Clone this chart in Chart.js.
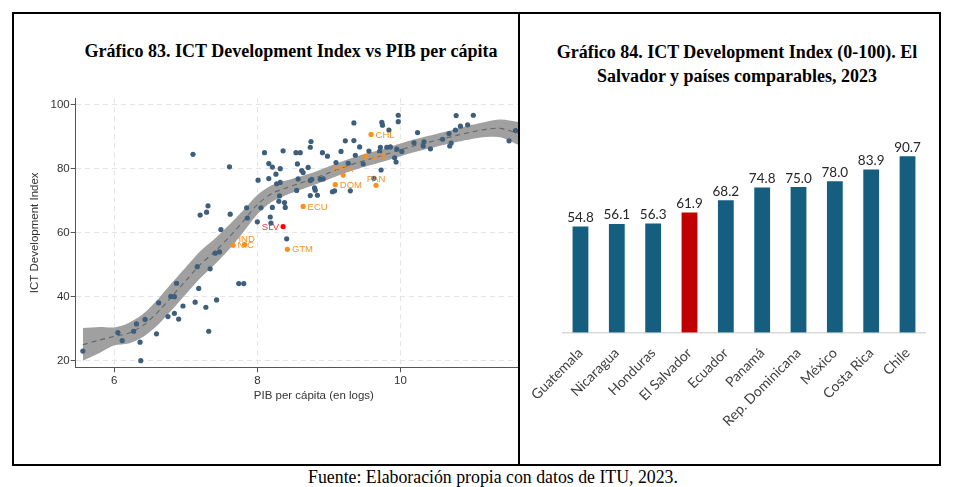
<!DOCTYPE html>
<html lang="es">
<head>
<meta charset="utf-8">
<title>ICT Development Index</title>
<script src="https://cdn.jsdelivr.net/npm/chart.js@4.4.1/dist/chart.umd.min.js"></script>
<style>
    body { margin: 0; width: 961px; height: 487px; background: #fff; position: relative; overflow: hidden; }
    #frame { position: absolute; left: 12px; top: 12px; width: 925px; height: 450px; border: 2px solid #000; }
    #divider { position: absolute; left: 517.5px; top: 12px; width: 2.5px; height: 454px; background: #000; }
    .title { position: absolute; font-family: "Liberation Serif", "Times New Roman", serif; font-weight: bold;
             font-size: 18px; line-height: 24px; text-align: center; color: #000; }
    #title83 { left: 41px; top: 39px; width: 500px; }
    #title84 { left: 537px; top: 40px; width: 400px; }
    #scatterWrap { position: absolute; left: 14px; top: 85px; width: 503.5px; height: 330px; overflow: hidden; }
    #barWrap { position: absolute; left: 520px; top: 90px; width: 419px; height: 374px; }
    #source { position: absolute; left: 243px; top: 467px; width: 500px; text-align: center;
              font-family: "Liberation Serif", "Times New Roman", serif; font-size: 17.8px; line-height: 20px; color: #000; }
</style>
</head>
<body>
<div id="frame"></div>
<div id="divider"></div>
<div class="title" id="title83">Gráfico 83. ICT Development Index vs PIB per cápita</div>
<div class="title" id="title84">Gráfico 84. ICT Development Index (0-100). El<br>Salvador y países comparables, 2023</div>
<div id="scatterWrap"><canvas id="scatter" width="545" height="330"></canvas></div>
<div id="barWrap"><canvas id="bars" width="419" height="374"></canvas></div>
<div id="source">Fuente: Elaboración propia con datos de ITU, 2023.</div>

<script>
// Countries shown in the bar chart (same order as the highlighted points)
const countries = ['Guatemala', 'Nicaragua', 'Honduras', 'El Salvador', 'Ecuador',
                   'Panamá', 'Rep. Dominicana', 'México', 'Costa Rica', 'Chile'];
const countryCodes = ['GTM', 'NIC', 'HND', 'SLV', 'ECU', 'PAN', 'DOM', 'MEX', 'CRI', 'CHL'];
const ictValues = [54.8, 56.1, 56.3, 61.9, 68.2, 74.8, 75.0, 78.0, 83.9, 90.7];
const gdpLogHighlighted = [8.42, 7.66, 7.82, 8.36, 8.64, 9.66, 9.09, 9.20, 9.51, 9.59];

// All other countries (log GDP per capita, ICT index)
const gdpLog = [
    5.56, 6.05, 6.11, 6.27, 6.31, 6.36, 6.37, 6.43, 6.59, 6.62,
    6.75, 6.79, 6.84, 6.84, 6.87, 6.90, 6.96, 7.13, 7.16, 7.18,
    7.28, 7.32, 7.34, 7.41, 7.43, 7.47, 7.49, 7.74, 7.81, 8.41,
    7.10, 7.61, 7.31, 7.20, 7.29, 7.62,
    9.97, 9.97, 9.35, 9.74, 9.75, 9.84, 10.78, 11.02, 10.84, 10.94,
    10.77, 10.68, 10.24, 11.61, 11.52, 10.59, 10.71, 10.69, 10.33, 10.19,
    10.32, 10.42, 10.02, 9.95, 9.86, 9.81, 9.72, 9.71, 9.92, 9.94,
    9.56, 9.43, 9.35, 9.23, 9.37, 9.48, 9.17, 9.10, 9.27, 8.98,
    8.91, 8.75, 8.74, 8.60, 8.54, 8.36, 8.10, 8.56, 8.71, 8.62,
    8.64, 8.16, 8.21, 8.32, 8.26, 8.16, 8.01, 8.27, 8.32, 8.57,
    8.74, 8.76, 8.88, 8.92, 8.55, 8.80, 8.81, 8.74, 8.84, 9.05,
    9.08, 9.30, 9.63, 9.73, 8.31, 8.30, 8.38, 8.39, 8.21, 8.05,
    7.85, 7.86, 8.18, 8.19, 8.00
];
const ictScore = [
    23.0, 28.8, 26.3, 29.2, 31.5, 25.8, 20.0, 32.9, 28.4, 38.1,
    33.8, 40.1, 40.0, 34.8, 44.2, 33.0, 37.1, 38.3, 49.4, 42.6,
    36.7, 29.2, 48.7, 53.6, 39.0, 54.0, 61.0, 44.1, 44.1, 58.1,
    84.5, 80.6, 68.4, 65.5, 66.4, 65.8,
    96.7, 94.7, 94.3, 94.5, 93.6, 92.1, 96.6, 96.7, 93.3, 93.7,
    92.1, 91.0, 91.3, 91.9, 88.7, 89.2, 88.0, 87.1, 88.4, 88.1,
    87.1, 86.2, 85.4, 86.1, 86.8, 86.7, 86.7, 85.4, 83.4, 82.1,
    85.5, 86.8, 88.8, 88.7, 84.2, 81.5, 85.4, 81.9, 81.7, 83.9,
    85.0, 88.5, 86.7, 85.0, 85.0, 85.6, 85.0, 81.5, 80.4, 79.4,
    78.8, 81.6, 80.5, 80.0, 78.3, 76.9, 76.4, 75.3, 75.7, 76.8,
    76.3, 76.7, 76.7, 76.8, 73.2, 74.0, 73.3, 71.6, 71.7, 72.8,
    73.1, 73.1, 77.0, 79.6, 71.5, 69.8, 69.4, 67.9, 67.9, 67.8,
    67.8, 64.6, 64.9, 63.0, 63.4
];

// Smoothed fit and its confidence band
const fitX = [5.56, 5.8, 6.0, 6.2, 6.4, 6.6, 6.8, 7.0, 7.2, 7.4, 7.6, 7.8, 8.0, 8.2, 8.4, 8.6,
              8.8, 9.0, 9.2, 9.4, 9.6, 9.8, 10.0, 10.2, 10.4, 10.6, 10.8, 11.0, 11.2, 11.4, 11.65];
const fitY = [25.0, 26.5, 27.6, 28.6, 31.0, 35.0, 40.0, 45.0, 50.0, 54.0, 58.5, 63.5, 68.8, 72.2, 74.0, 75.5,
              77.0, 78.7, 80.4, 81.9, 83.2, 84.5, 85.9, 87.2, 88.3, 89.4, 90.5, 91.5, 92.3, 92.6, 91.0];
const bandHigh = [30.2, 30.5, 30.4, 31.8, 34.6, 39.0, 44.2, 49.2, 54.2, 58.0, 62.3, 66.9, 71.8, 74.8, 76.3, 77.6,
                  79.0, 80.7, 82.4, 83.9, 85.2, 86.5, 87.9, 89.2, 90.3, 91.4, 92.6, 93.7, 94.7, 95.4, 94.6];
const bandLow = [20.0, 22.5, 24.8, 25.4, 27.4, 31.0, 35.8, 40.8, 45.8, 50.0, 54.7, 60.1, 65.8, 69.6, 71.7, 73.4,
                 75.0, 76.7, 78.4, 79.9, 81.2, 82.5, 83.9, 85.2, 86.3, 87.4, 88.4, 89.3, 89.9, 89.8, 87.4];

const xTicks = [6, 8, 10];
const yTicks = [20, 40, 60, 80, 100];

// where each code label sits relative to its point: r = right, t = above, l = left
const labelPlacement = ['r', 'r', 't', 'l', 'r', 't', 'r', 't', 'r', 'r'];

const ORANGE = '#f8901f';
const RED = '#ff0000';
const NAVY = '#3d5f7c';
const AXIS_FONT = { family: '"Liberation Sans", Arial, sans-serif', size: 11.5 };

function toPoints(xs, ys) {
    return xs.map((x, i) => ({ x: x, y: ys[i] }));
}

// ✅ Code labels next to highlighted countries
const codeLabels = {
    id: 'codeLabels',
    afterDatasetsDraw(chart) {
        const ctx = chart.ctx;
        const meta = chart.getDatasetMeta(0);
        ctx.save();
        ctx.font = '9.5px "Liberation Sans", Arial, sans-serif';
        meta.data.forEach((pt, i) => {
            const code = countryCodes[i];
            ctx.fillStyle = code === 'SLV' ? '#f2383d' : ORANGE;
            const pos = labelPlacement[i];
            if (pos === 'r') {
                ctx.textAlign = 'left';
                ctx.textBaseline = 'middle';
                ctx.fillText(code, pt.x + 4.5, pt.y + 0.5);
            } else if (pos === 'l') {
                ctx.textAlign = 'right';
                ctx.textBaseline = 'middle';
                ctx.fillText(code, pt.x - 4, pt.y + 0.5);
            } else {
                ctx.textAlign = 'center';
                ctx.textBaseline = 'alphabetic';
                ctx.fillText(code, pt.x, pt.y - 3);
            }
        });
        ctx.restore();
    }
};

// ✅ Value labels above bars
const valueLabels = {
    id: 'valueLabels',
    afterDatasetsDraw(chart) {
        const ctx = chart.ctx;
        const meta = chart.getDatasetMeta(0);
        ctx.save();
        ctx.font = '13.5px Lato, "Noto Sans", sans-serif';
        ctx.fillStyle = '#262626';
        ctx.textAlign = 'center';
        ctx.textBaseline = 'alphabetic';
        meta.data.forEach((bar, i) => {
            ctx.fillText(ictValues[i].toFixed(1), bar.x, bar.y - 3.5);
        });
        ctx.restore();
    }
};

new Chart(document.getElementById('scatter'), {
    type: 'scatter',
    data: {
        datasets: [
            {
                label: 'Destacados',
                data: toPoints(gdpLogHighlighted, ictValues),
                backgroundColor: countryCodes.map(c => c === 'SLV' ? RED : ORANGE),
                pointRadius: 2.6,
                pointBorderWidth: 0,
                order: 0
            },
            {
                label: 'Países',
                data: toPoints(gdpLog, ictScore),
                backgroundColor: NAVY,
                pointRadius: 2.6,
                pointBorderWidth: 0,
                order: 1
            },
            {
                label: 'Ajuste',
                data: toPoints(fitX, fitY),
                showLine: true,
                borderColor: '#666',
                borderWidth: 1.1,
                borderDash: [5, 4],
                pointRadius: 0,
                tension: 0.3,
                order: 2
            },
            {
                label: 'IC superior',
                data: toPoints(fitX, bandHigh),
                showLine: true,
                borderColor: 'rgba(0,0,0,0)',
                pointRadius: 0,
                tension: 0.3,
                fill: false,
                order: 3
            },
            {
                label: 'IC inferior',
                data: toPoints(fitX, bandLow),
                showLine: true,
                borderColor: 'rgba(0,0,0,0)',
                backgroundColor: '#a0a0a0',
                pointRadius: 0,
                tension: 0.3,
                fill: { target: 3 },
                order: 3
            }
        ]
    },
    options: {
        responsive: false,
        animation: false,
        layout: { padding: { top: 13.3, right: 7, left: 0, bottom: 0 } },
        plugins: {
            legend: { display: false },
            tooltip: { enabled: false }
        },
        scales: {
            x: {
                type: 'linear',
                min: 5.46,
                max: 12.12,
                afterBuildTicks: s => { s.ticks = xTicks.map(v => ({ value: v })); },
                afterFit: s => { s.height = 47.7; },
                grid: { color: '#e4e4e4', tickLength: 5, tickColor: '#555', tickBorderDash: [] },
                border: { color: '#555', width: 1, dash: [5, 4] },
                ticks: { font: AXIS_FONT, color: '#333', padding: 2, maxRotation: 0 },
                title: {
                    display: true,
                    text: 'PIB per cápita (en logs)',
                    font: AXIS_FONT,
                    color: '#333',
                    padding: { top: 0, bottom: 12 }
                }
            },
            y: {
                min: 17.94,
                max: 102,
                afterBuildTicks: s => { s.ticks = yTicks.map(v => ({ value: v })); },
                afterFit: s => { s.width = 61.7; },
                grid: { color: '#e4e4e4', tickLength: 5, tickColor: '#555', tickBorderDash: [] },
                border: { color: '#555', width: 1, dash: [5, 4] },
                ticks: { font: AXIS_FONT, color: '#333', padding: 1 },
                title: {
                    display: true,
                    text: 'ICT Development Index',
                    font: AXIS_FONT,
                    color: '#333',
                    padding: { top: 14, bottom: 0 }
                }
            }
        }
    },
    plugins: [codeLabels]
});

new Chart(document.getElementById('bars'), {
    type: 'bar',
    data: {
        labels: countries,
        datasets: [{
            data: ictValues,
            backgroundColor: countries.map(c => c === 'El Salvador' ? '#c00000' : '#165e80'),
            borderColor: 'rgba(255,255,255,0.3)',
            borderWidth: 1,
            barPercentage: 0.49,
            categoryPercentage: 1
        }]
    },
    options: {
        responsive: false,
        animation: false,
        layout: { padding: { left: 42.3, right: 13.3, top: 47.1, bottom: 0 } },
        plugins: {
            legend: { display: false },
            tooltip: { enabled: false }
        },
        scales: {
            x: {
                grid: { display: false },
                border: { display: true, color: '#d9d9d9', width: 1.5 },
                ticks: {
                    minRotation: 45,
                    maxRotation: 45,
                    font: { family: 'Lato, "Noto Sans", sans-serif', size: 14 },
                    color: '#404040',
                    padding: 4
                },
                afterFit: s => { s.height = 131.3; }
            },
            y: { display: false, min: 0, max: 100 }
        }
    },
    plugins: [valueLabels]
});
</script>
</body>
</html>
